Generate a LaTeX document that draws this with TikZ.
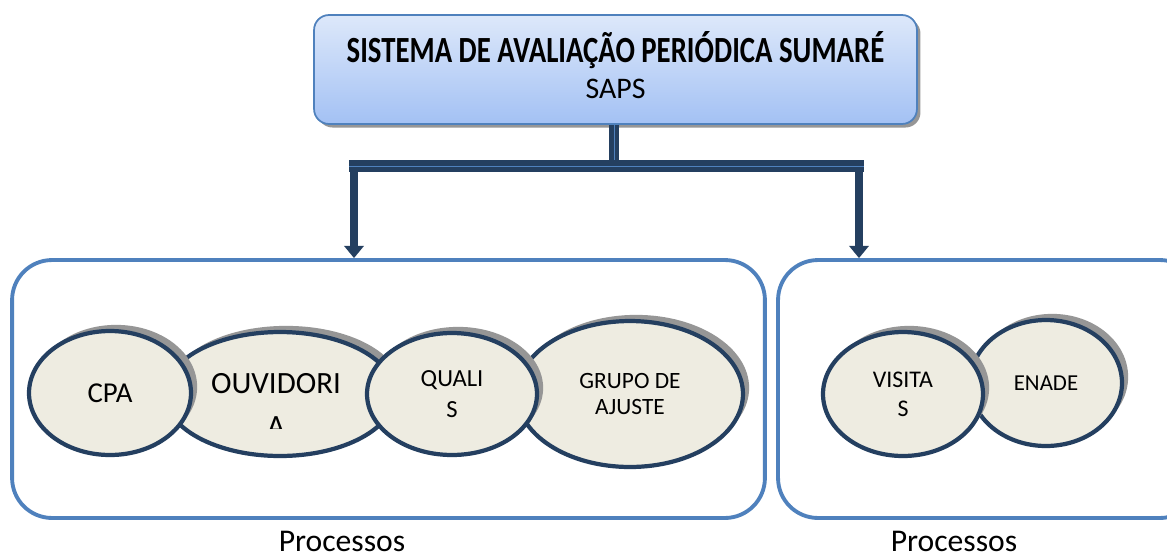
\documentclass[tikz,border=0pt]{standalone}
\usepackage{fontspec}
\setmainfont{Carlito}
\newfontfamily\condfont[FakeStretch=0.78]{Carlito}
\usetikzlibrary{positioning,shapes.geometric,shadows,arrows.meta}
\definecolor{navy}{HTML}{243F60}
\definecolor{frameblue}{HTML}{4F81BD}
\definecolor{ovalfill}{HTML}{EEECE1}
\definecolor{shadegray}{HTML}{969696}
\definecolor{titletop}{HTML}{DDE8FA}
\definecolor{titlebot}{HTML}{A3C1F4}
\tikzset{
	oval/.style={ellipse, draw=navy, line width=2.4pt, fill=ovalfill, inner sep=0pt, align=center,
		drop shadow={shadow xshift=3.5pt, shadow yshift=3.5pt, fill=shadegray, opacity=1}},
	procbox/.style={draw=frameblue, line width=2.2pt, rounded corners=0.8cm, fill=white},
	stem/.style={draw=navy, line width=2.6pt, double=frameblue, double distance=0.4pt},
	droparrow/.style={navy, line width=4.5pt, -{Triangle[width=11pt,length=7pt]}},
}

\begin{document}
\begin{tikzpicture}[x=0.02cm, y=-0.02cm]
	\useasboundingbox (0,0) rectangle (1167,559);
	\clip (0,0) rectangle (1167,559);

	\node (saps) at (615.5,69.5) [draw=frameblue, line width=1pt, rounded corners=0.3cm,
		top color=titletop, bottom color=titlebot, minimum width=12.06cm, minimum height=2.18cm,
		drop shadow={shadow xshift=2pt, shadow yshift=-2pt, fill=shadegray, opacity=1}] {};
	\node (title) at (615.5,50) {\condfont\bfseries\fontsize{21}{25}\selectfont SISTEMA DE AVALIAÇÃO PERIÓDICA SUMARÉ};
	\node (sigla) at (615.5,89) {\fontsize{17}{20}\selectfont SAPS};

	\node (proc1) at (388.5,389) [procbox, minimum width=15.06cm, minimum height=5.16cm] {};
	\node (proc2) at (989,389) [procbox, minimum width=8.44cm, minimum height=5.16cm] {};

	\coordinate (fork) at (614,166);
	\coordinate (forkl) at (349,166);
	\coordinate (forkr) at (864,166);
	\coordinate (dl) at (354,166);
	\coordinate (dr) at (859,166);
	\draw [stem] (saps.south -| fork) -- (fork);
	\draw [droparrow] (dl) -- (dl |- proc1.north);
	\draw [droparrow] (dr) -- (dr |- proc2.north);
	\draw [stem, line width=3.2pt] (forkl) -- (forkr);

	\node (ouv) at (280,394) [oval, minimum width=4.6cm, minimum height=2.48cm] {};
	\node (grupo) at (630,394) [oval, minimum width=4.52cm, minimum height=2.92cm,
		font=\fontsize{13.3}{15.3}\selectfont] {GRUPO DE\\AJUSTE};
	\node (cpa) at (110,393) [oval, minimum width=3.24cm, minimum height=2.48cm,
		font=\fontsize{16.4}{20}\selectfont] {CPA};
	\node (qualis) at (452,394) [oval, minimum width=3.4cm, minimum height=2.44cm,
		font=\fontsize{14}{17.5}\selectfont] {QUALI\\S};
	\begin{scope}
		\clip (150,330) rectangle (370,428);
		\node (ouvtxt) at (276,405) [align=center, font=\fontsize{17.6}{24}\selectfont] {OUVIDORI\\A};
	\end{scope}

	\node (enade) at (1046,383) [oval, minimum width=3.04cm, minimum height=2.52cm,
		font=\fontsize{13}{16}\selectfont] {ENADE};
	\node (visitas) at (903,394) [oval, minimum width=3.2cm, minimum height=2.48cm,
		font=\fontsize{13.6}{16.4}\selectfont] {VISITA\\S};

	\node (lbl1) at (342,541) [inner sep=0pt] {\fontsize{18}{22}\selectfont Processos};
	\node (lbl2) at (954,541) [inner sep=0pt] {\fontsize{18}{22}\selectfont Processos};
\end{tikzpicture}
\end{document}
